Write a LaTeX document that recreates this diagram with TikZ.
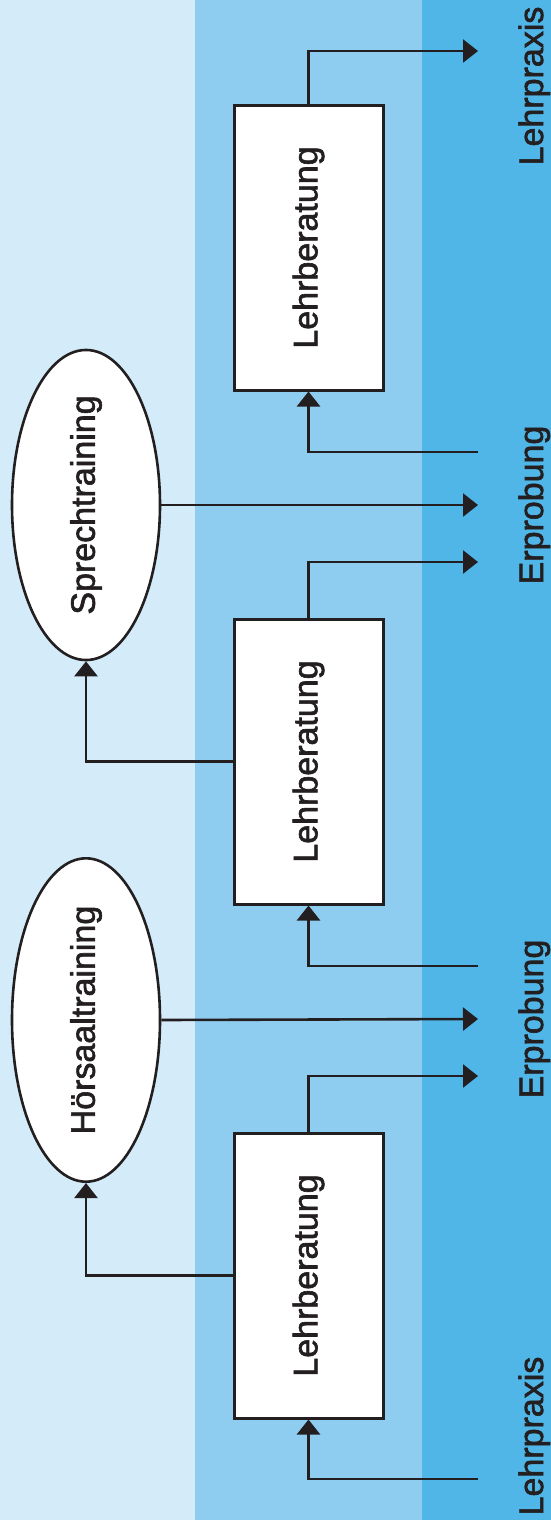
\documentclass[tikz,border=0pt]{standalone}
\usepackage{fontspec}
\setmainfont{Liberation Sans}
\newfontfamily\lblfont[FakeBold=1.8]{Liberation Sans}
\usepackage{graphicx}
\usetikzlibrary{shapes.geometric,arrows.meta}
\definecolor{bandA}{HTML}{D4ECFA}
\definecolor{bandB}{HTML}{8FCDF0}
\definecolor{bandC}{HTML}{50B6E8}
\definecolor{ink}{HTML}{231F20}
\begin{document}
\begin{tikzpicture}[x=1pt,y=-1pt,
  lbl/.style={font=\lblfont\fontsize{34}{40}\selectfont, text=ink},
  boxnode/.style={draw=ink, line width=3pt, fill=white, minimum width=149pt, minimum height=285pt, inner sep=0pt, lbl},
  ellnode/.style={ellipse, draw=ink, line width=2.6pt, fill=white, minimum width=148pt, minimum height=284pt, inner sep=0pt, lbl},
  sidelbl/.style={lbl, rotate=90, anchor=base, inner sep=0pt},
  conn/.style={draw=ink, line width=2.6pt},
  arr/.style={conn, -{Triangle[length=15pt,width=23pt]}}]
\useasboundingbox (0,0) rectangle (551,1520);
\fill[bandA] (0,0) rectangle (195,1520);
\fill[bandB] (195,0) rectangle (422,1520);
\fill[bandC] (422,0) rectangle (551,1520);

\node[boxnode] (b1) at (308.5,1275.5) {\rotatebox{90}{Lehrberatung}};
\node[boxnode] (b2) at (308.5,761.5) {\rotatebox{90}{Lehrberatung}};
\node[boxnode] (b3) at (308.5,247.5) {\rotatebox{90}{Lehrberatung}};
\node[ellnode] (e1) at (86,1020) {\rotatebox{90}{Hörsaaltraining}};
\node[ellnode] (e2) at (86,505) {\rotatebox{90}{Sprechtraining}};

\node[sidelbl] (lp1) at (543,1436) {Lehrpraxis};
\node[sidelbl] (ep1) at (543,1019) {Erprobung};
\node[sidelbl] (ep2) at (543,505) {Erprobung};
\node[sidelbl] (lp2) at (543,86) {Lehrpraxis};

\coordinate (s1) at (478,1479);
\coordinate (t1) at (478,1076);
\coordinate (t2) at (478,1019);
\coordinate (s2) at (478,966);
\coordinate (t3) at (478,562);
\coordinate (t4) at (478,505);
\coordinate (s3) at (478,452);
\coordinate (t5) at (478,51);

\draw[arr] (s1) -| (b1.south);
\draw[arr] (b1.north) |- (t1);
\draw[arr] (e1.east) -- (t2);
\draw[arr] (s2) -| (b2.south);
\draw[arr] (b1.west) -| (e1.south);
\draw[arr] (b2.north) |- (t3);
\draw[arr] (e2.east) -- (t4);
\draw[arr] (s3) -| (b3.south);
\draw[arr] (b2.west) -| (e2.south);
\draw[arr] (b3.north) |- (t5);
\end{tikzpicture}
\end{document}
